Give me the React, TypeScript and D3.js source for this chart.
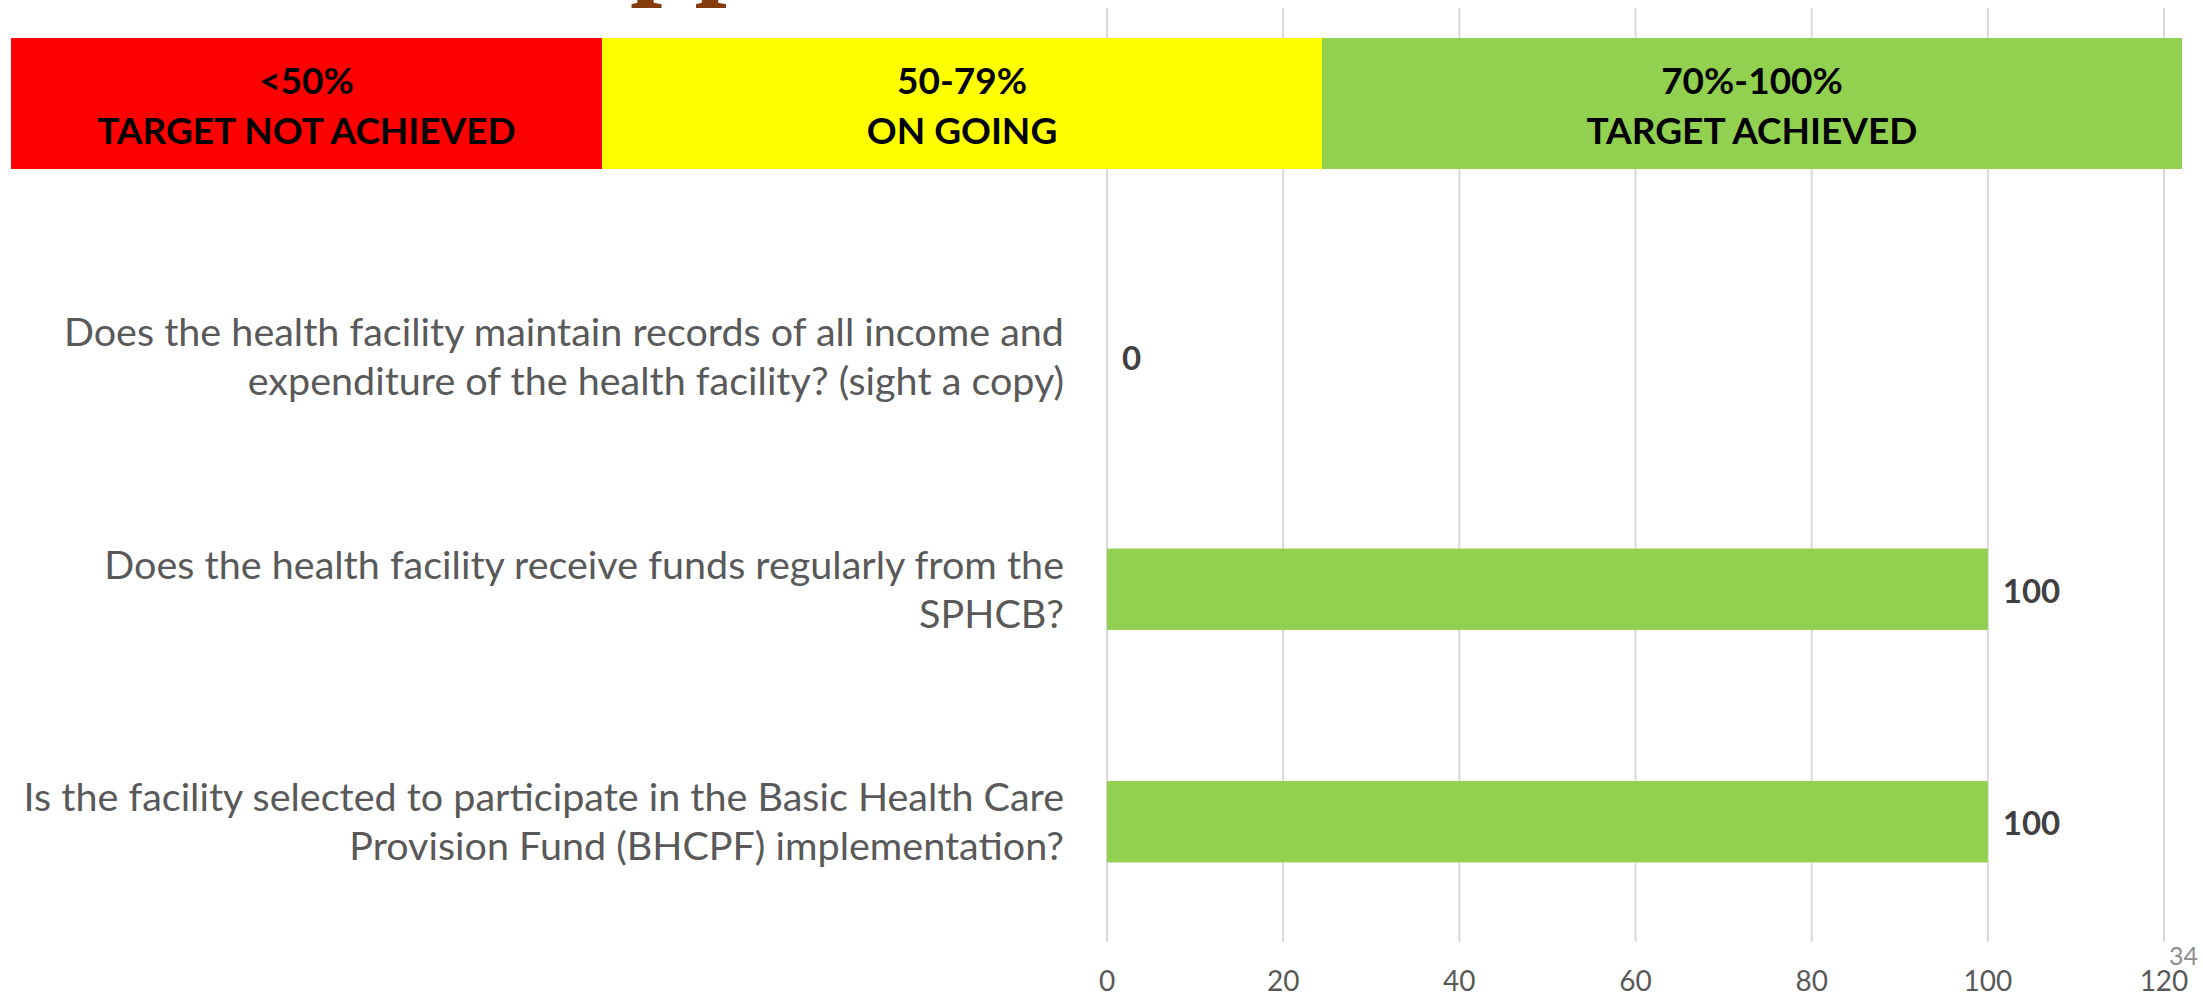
import React, { useEffect, useRef } from 'react';
import * as d3 from 'd3';

// first slot sits behind the status header
const categories = [
  '',
  'Does the health facility maintain records of all income and\nexpenditure of the health facility? (sight a copy)',
  'Does the health facility receive funds regularly from the\nSPHCB?',
  'Is the facility selected to participate in the Basic Health Care\nProvision Fund (BHCPF) implementation?'
];
const values: (number | null)[] = [null, 0, 100, 100];
const xTicks = [0, 20, 40, 60, 80, 100, 120];

const bandLabels = ['<50%\nTARGET NOT ACHIEVED', '50-79%\nON GOING', '70%-100%\nTARGET ACHIEVED'];
const bandColors = ['#FF0000', '#FFFF00', '#92D050'];

const App: React.FC = () => {
  const svgRef = useRef<SVGSVGElement>(null);
  const width = 2203;
  const height = 997;

  useEffect(() => {
    if (!svgRef.current) return;
    document.body.style.margin = '0';
    const svg = d3.select(svgRef.current);
    svg.selectAll('*').remove();

    const font = "Lato, 'Open Sans', sans-serif";
    const colors = {
      grid: '#d9d9d9',
      bar: '#92D050',
      label: '#595959',
      value: '#404040',
      page: '#8c8c8c',
      title: '#843C0C'
    };

    svg.append('rect').attr('width', width).attr('height', height).attr('fill', '#ffffff');

    const x = d3.scaleLinear().domain([0, 120]).range([1107, 2164]);
    const y = d3.scaleBand<number>()
      .domain(d3.range(categories.length))
      .range([8, 938])
      .paddingInner(0.65)
      .paddingOuter(0.325);

    // Grid
    svg.append('g')
      .selectAll('line')
      .data(xTicks)
      .enter().append('line')
      .attr('x1', d => x(d)).attr('x2', d => x(d))
      .attr('y1', 8).attr('y2', 942)
      .attr('stroke', colors.grid)
      .attr('stroke-width', 2);

    // X tick labels
    svg.append('g')
      .selectAll('text')
      .data(xTicks)
      .enter().append('text')
      .attr('x', d => x(d))
      .attr('y', 981)
      .attr('dy', '0.35em')
      .attr('text-anchor', 'middle')
      .attr('font-family', font)
      .attr('font-size', 28)
      .attr('fill', colors.label)
      .text(d => d);

    // Bars
    const rows = values.map((v, i) => ({ i, v })).filter(d => d.v !== null) as { i: number; v: number }[];
    svg.append('g')
      .selectAll('rect')
      .data(rows)
      .enter().append('rect')
      .attr('x', x(0))
      .attr('y', d => y(d.i) || 0)
      .attr('width', d => x(d.v) - x(0))
      .attr('height', y.bandwidth())
      .attr('fill', colors.bar);

    // Value labels
    svg.append('g')
      .selectAll('text')
      .data(rows)
      .enter().append('text')
      .attr('x', d => x(d.v) + 15)
      .attr('y', d => (y(d.i) || 0) + y.bandwidth() / 2 + 2)
      .attr('dy', '0.35em')
      .attr('font-family', font)
      .attr('font-weight', 700)
      .attr('font-size', 33)
      .attr('fill', colors.value)
      .text(d => d.v);

    // Category labels
    categories.forEach((c, i) => {
      if (!c) return;
      const lines = c.split('\n');
      const cy = (y(i) || 0) + y.bandwidth() / 2;
      const t = svg.append('text')
        .attr('text-anchor', 'end')
        .attr('font-family', font)
        .attr('font-size', 39.5)
        .attr('fill', colors.label);
      lines.forEach((ln, k) => {
        t.append('tspan')
          .attr('x', 1064)
          .attr('y', cy + (k - (lines.length - 1) / 2) * 49)
          .attr('dy', '0.35em')
          .text(ln);
      });
    });

    // Status header
    const hx = d3.scaleOrdinal<number, number>().domain([0, 1, 2, 3]).range([11, 602, 1322, 2182]);
    bandLabels.forEach((lbl, i) => {
      const x0 = hx(i);
      const x1 = hx(i + 1);
      svg.append('rect')
        .attr('x', x0).attr('y', 38)
        .attr('width', x1 - x0).attr('height', 131)
        .attr('fill', bandColors[i]);
      const t = svg.append('text')
        .attr('text-anchor', 'middle')
        .attr('font-family', font)
        .attr('font-weight', 700)
        .attr('font-size', 37)
        .attr('fill', '#000000');
      lbl.split('\n').forEach((ln, k) => {
        t.append('tspan')
          .attr('x', (x0 + x1) / 2)
          .attr('y', 81 + k * 50)
          .attr('dy', '0.35em')
          .text(ln);
      });
    });

    // Clipped slide title (only descenders visible)
    svg.append('text')
      .attr('x', 630)
      .attr('y', -17)
      .attr('font-family', "'Liberation Serif', serif")
      .attr('font-weight', 700)
      .attr('font-size', 116)
      .attr('fill', colors.title)
      .text('pp');

    // Page number
    svg.append('text')
      .attr('x', 2198)
      .attr('y', 956)
      .attr('dy', '0.35em')
      .attr('text-anchor', 'end')
      .attr('font-family', font)
      .attr('font-size', 25)
      .attr('fill', colors.page)
      .text('34');
  }, []);

  return (
    <svg
      ref={svgRef}
      width={width}
      height={height}
      viewBox={`0 0 ${width} ${height}`}
      style={{ display: 'block' }}
    />
  );
};

export default App;
